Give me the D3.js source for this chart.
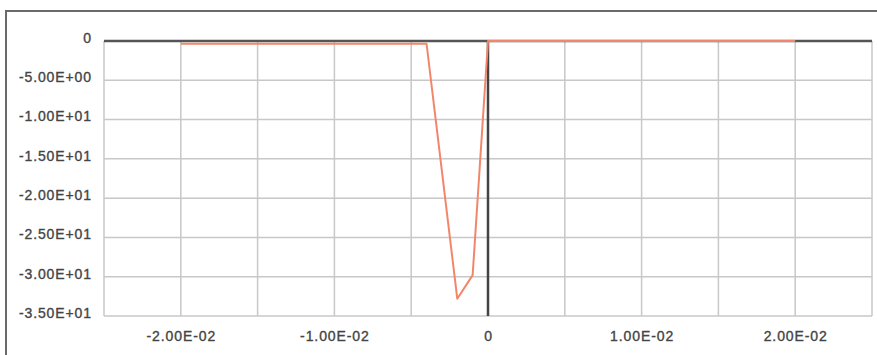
<!DOCTYPE html>
<html>
<head>
<meta charset="utf-8">
<script src="https://cdn.jsdelivr.net/npm/d3@7"></script>
<style>
  html, body { margin: 0; padding: 0; background: #fff; }
  svg { display: block; }
  .tick text { font-family: Arial, "Liberation Sans", sans-serif; font-size: 14px; letter-spacing: 0.9px; fill: #444; stroke: #444; stroke-width: 0.35px; }
</style>
</head>
<body>
<svg id="chart" width="877" height="355"></svg>
<script>
// Response curve: time (s) vs. value
const xValues = [-0.02, -0.015, -0.01, -0.005, -0.004, -0.002, -0.001, 0, 0.005, 0.01, 0.015, 0.02];
const yValues = [-0.35, -0.35, -0.35, -0.35, -0.35, -32.8, -29.8, 0, 0, 0, 0, 0];

const xTicks = [-0.02, -0.01, 0, 0.01, 0.02];
const xTickLabels = ["-2.00E-02", "-1.00E-02", "0", "1.00E-02", "2.00E-02"];
const xGrid = [-0.025, -0.02, -0.015, -0.01, -0.005, 0, 0.005, 0.01, 0.015, 0.02, 0.025];
const yTicks = [0, -5, -10, -15, -20, -25, -30, -35];
const yTickLabels = ["0", "-5.00E+00", "-1.00E+01", "-1.50E+01", "-2.00E+01", "-2.50E+01", "-3.00E+01", "-3.50E+01"];

const svg = d3.select("#chart");
const margin = { left: 104, right: 5, top: 41, bottom: 39 };
const W = 877, H = 355;

const x = d3.scaleLinear().domain([-0.025, 0.025]).range([margin.left, W - margin.right]);
const y = d3.scaleLinear().domain([-35, 0]).range([H - margin.bottom, margin.top]);

// outer frame (top and left edges)
svg.append("path")
  .attr("d", `M6,${H} L6,11 L${W},11`)
  .attr("fill", "none").attr("stroke", "#6a6a6a").attr("stroke-width", 2);

// grid
svg.append("g").selectAll("line.v").data(xGrid).join("line")
  .attr("x1", d => x(d)).attr("x2", d => x(d))
  .attr("y1", y(0)).attr("y2", y(-35))
  .attr("stroke", "#c8c8c8").attr("stroke-width", 1.5);
svg.append("g").selectAll("line.h").data(yTicks).join("line")
  .attr("x1", x(-0.025)).attr("x2", x(0.025))
  .attr("y1", d => y(d)).attr("y2", d => y(d))
  .attr("stroke", "#c8c8c8").attr("stroke-width", 1.5);

// axes labels
const yAxis = d3.axisLeft(y).tickValues(yTicks)
  .tickFormat((d, i) => yTickLabels[i]).tickSize(0).tickPadding(12);
svg.append("g").attr("transform", `translate(${margin.left},0)`).call(yAxis)
  .call(g => g.select(".domain").remove())
  .call(g => g.selectAll("text").attr("dy", "0.1em"));

const xAxis = d3.axisBottom(x).tickValues(xTicks)
  .tickFormat((d, i) => xTickLabels[i]).tickSize(0).tickPadding(15);
svg.append("g").attr("transform", `translate(0,${y(-35)})`).call(xAxis)
  .call(g => g.select(".domain").remove());

// zero lines
svg.append("line")
  .attr("x1", x(-0.025)).attr("x2", x(0.025))
  .attr("y1", y(0)).attr("y2", y(0))
  .attr("stroke", "#555").attr("stroke-width", 2.5);
svg.append("line")
  .attr("x1", x(0)).attr("x2", x(0))
  .attr("y1", y(0)).attr("y2", y(-35))
  .attr("stroke", "#444").attr("stroke-width", 2.5);

// series
const pts = xValues.map((v, i) => [v, yValues[i]]);
svg.append("path")
  .datum(pts)
  .attr("fill", "none")
  .attr("stroke", "#f2866a")
  .attr("stroke-width", 2)
  .attr("stroke-linejoin", "round")
  .attr("d", d3.line().x(d => x(d[0])).y(d => y(d[1])));
</script>
</body>
</html>
